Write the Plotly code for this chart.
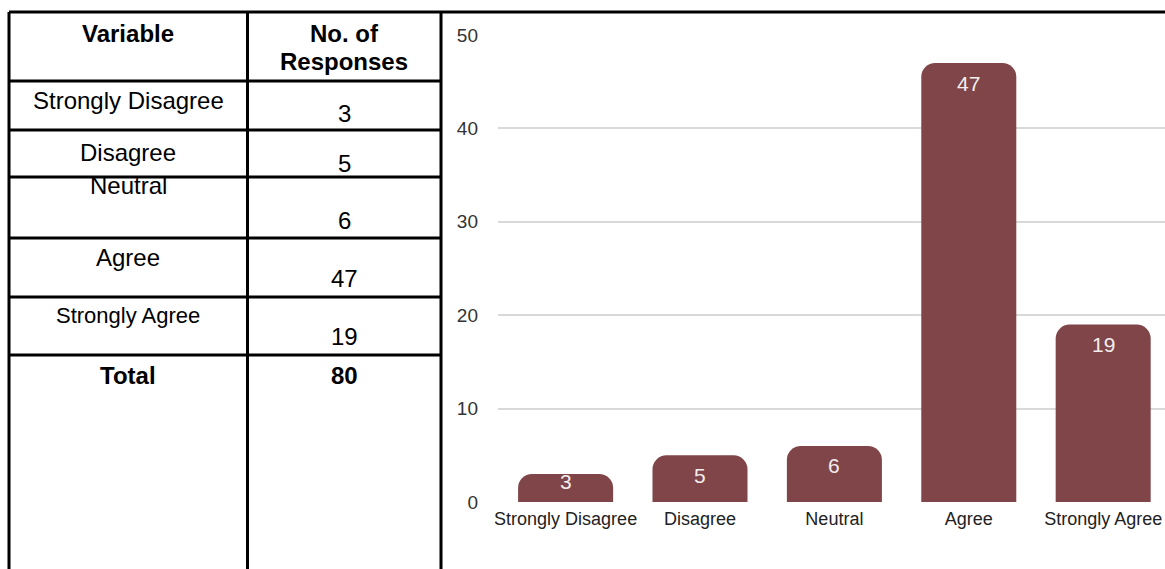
import plotly.graph_objects as go

# ---- data ----
categories = ["Strongly Disagree", "Disagree", "Neutral", "Agree", "Strongly Agree"]
responses = [3, 5, 6, 47, 19]
total_label = "Total"
total_value = 80
header_variable = "Variable"
header_responses = ["No. of", "Responses"]
y_ticks = [0, 10, 20, 30, 40, 50]

W, H = 1165, 569
BAR_COLOR = "#7f4549"
TABLE_FONT = "Liberation Sans, Arial, sans-serif"
CHART_FONT = "Liberation Sans, Arial, Helvetica, sans-serif"

# plot area in pixels
plot_left, plot_right = 498, 1165
plot_top, plot_bottom = 35, 502
x_dom = [plot_left / W, plot_right / W]
y_dom = [(H - plot_bottom) / H, (H - plot_top) / H]
y_max = 50
px_per_unit = (plot_bottom - plot_top) / y_max


def px(x):
    return x / W


def py(y):
    return 1 - y / H


fig = go.Figure()
fig.add_trace(go.Bar(
    x=categories, y=responses,
    marker=dict(color=BAR_COLOR, cornerradius=14, line=dict(width=0)),
    hoverinfo="skip", showlegend=False,
))

annotations = []
# value labels on bars
for c, v in zip(categories, responses):
    h_px = v * px_per_unit
    shift = min(20, h_px - 21)
    annotations.append(dict(
        x=c, y=v, xref="x", yref="y", text=str(v), showarrow=False,
        yshift=-shift, yanchor="middle",
        font=dict(family=CHART_FONT, size=21, color="#f3eeee"),
    ))

# table text
col1_x, col2_x = 128, 344
label_y = [100, 152, 186, 257, 315]
value_y = [113, 163, 220, 278, 337]
label_size = [24, 24, 24, 24, 22]


def tab_text(text, x, y, size=24, bold=False):
    t = f"<b>{text}</b>" if bold else text
    annotations.append(dict(
        x=px(x), y=py(y), xref="paper", yref="paper", text=t,
        showarrow=False, xanchor="center", yanchor="middle",
        font=dict(family=TABLE_FONT, size=size, color="#000000"),
    ))


tab_text(header_variable, col1_x, 33, bold=True)
tab_text(header_responses[0], col2_x, 33, bold=True)
tab_text(header_responses[1], col2_x, 62, bold=True)
for c, v, ly, vy, s in zip(categories, responses, label_y, value_y, label_size):
    tab_text(c, col1_x, ly, size=s)
    tab_text(str(v), col2_x, vy)
tab_text(total_label, col1_x, 375, bold=True)
tab_text(str(total_value), col2_x, 375, bold=True)

# table lines
shapes = []
LW = 3


def line(x0, y0, x1, y1):
    shapes.append(dict(type="line", xref="paper", yref="paper",
                       x0=px(x0), y0=py(y0), x1=px(x1), y1=py(y1),
                       line=dict(color="#000000", width=LW)))


line(9, 12, W, 12)
for vx in [9, 247.5, 441]:
    line(vx, 12, vx, H + 5)
for hy in [81, 130, 177, 238, 297, 355]:
    line(9, hy, 441, hy)

fig.update_layout(
    template="none",
    width=W, height=H,
    margin=dict(l=0, r=0, t=0, b=0, autoexpand=False),
    paper_bgcolor="white", plot_bgcolor="white",
    bargap=0.293,
    annotations=annotations, shapes=shapes,
    xaxis=dict(domain=x_dom, range=[-0.503, 4.46], showgrid=False,
               showline=False, zeroline=False, ticks="", automargin=False,
               tickfont=dict(family=CHART_FONT, size=18, color="#222222"),
               ticklabelstandoff=4, fixedrange=True),
    yaxis=dict(domain=y_dom, range=[0, y_max], tickvals=y_ticks,
               showgrid=True, gridcolor="#d9d9d9", gridwidth=1.5,
               zeroline=True, zerolinecolor="white", showline=False,
               ticks="", automargin=False,
               tickfont=dict(family=CHART_FONT, size=19, color="#333333"),
               ticklabelstandoff=19, fixedrange=True),
)

fig.write_html("out.html")
